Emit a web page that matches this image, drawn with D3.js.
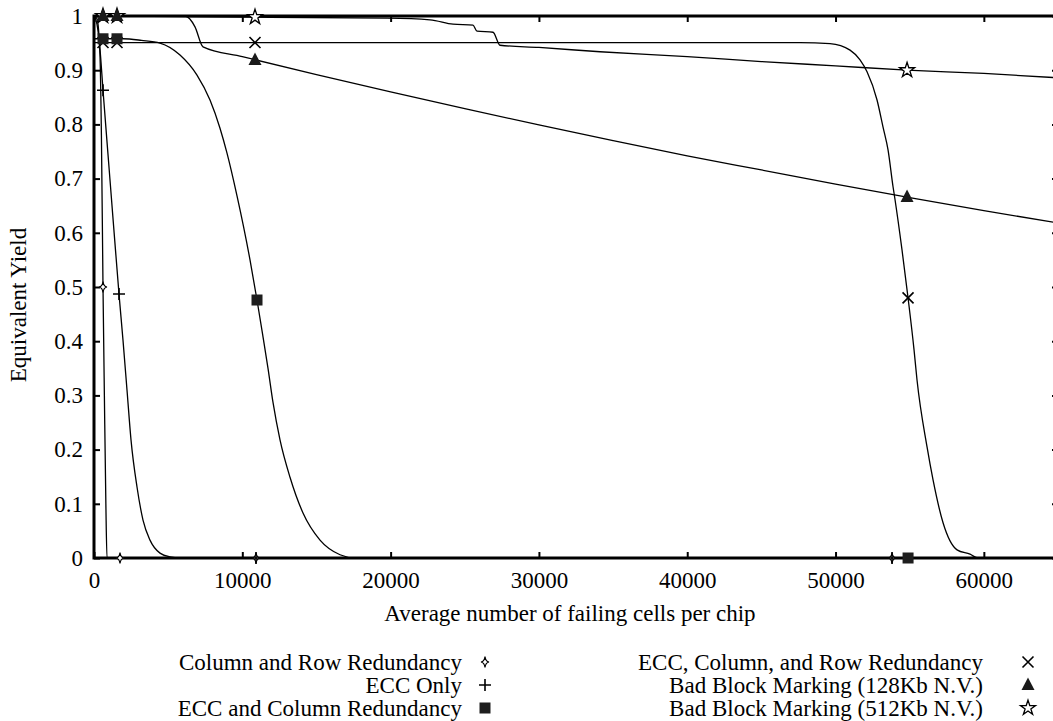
<!DOCTYPE html>
<html>
<head>
<meta charset="utf-8">
<script src="https://cdn.jsdelivr.net/npm/d3@7"></script>
<style>
  body { margin: 0; background: #fff; }
  svg text { font-family: "Liberation Serif", "Times New Roman", serif; fill: #000; }
</style>
</head>
<body>
<svg id="chart" width="1053" height="721" font-family="Liberation Serif"></svg>
<script>
// ---- axis ticks ----
const xTickValues = [0, 10000, 20000, 30000, 40000, 50000, 60000];
const yTickValues = [0, 0.1, 0.2, 0.3, 0.4, 0.5, 0.6, 0.7, 0.8, 0.9, 1];
const yTickLabels = ["0", "0.1", "0.2", "0.3", "0.4", "0.5", "0.6", "0.7", "0.8", "0.9", "1"];
const xDomain = [0, 65000];
const yDomain = [0, 1];
const xTitle = "Average number of failing cells per chip";
const yTitle = "Equivalent Yield";

// ---- series names ----
const seriesNames = [
  "Column and Row Redundancy",
  "ECC Only",
  "ECC and Column Redundancy",
  "ECC, Column, and Row Redundancy",
  "Bad Block Marking (128Kb N.V.)",
  "Bad Block Marking (512Kb N.V.)"
];

// ---- curves (failing cells, yield) ----
const colRowX = [0, 200, 400, 500, 607, 700, 800, 877, 65000];
const colRowY = [1, 0.995, 0.93, 0.78, 0.5, 0.3, 0.1, 0, 0];

const eccOnlyX = [0, 200, 400, 607, 1000, 1300, 1686, 1955, 2225, 2495, 2900, 3304, 3776, 4450, 5125, 5800, 65000];
const eccOnlyY = [1, 0.985, 0.94, 0.863, 0.725, 0.62, 0.487, 0.402, 0.310, 0.218, 0.131, 0.070, 0.033, 0.009, 0.002, 0, 0];

const eccColX = [0, 1955, 3200, 4450, 5799, 6945, 7822, 8496, 8968, 9643, 10519, 10991, 11396, 11733, 12070, 12542, 13217, 14093, 15240, 16588, 17600, 65000];
const eccColY = [0.958, 0.958, 0.955, 0.950, 0.928, 0.891, 0.845, 0.793, 0.747, 0.668, 0.550, 0.476, 0.408, 0.350, 0.287, 0.218, 0.149, 0.083, 0.033, 0.006, 0, 0];

const eccColRowX = [0, 47600, 49629, 50978, 51652, 52124, 52798, 53203, 53540, 53877, 54012, 54484, 54889, 55293, 55496, 56170, 56575, 57249, 58193, 59069, 59609, 65000];
const eccColRowY = [0.951, 0.951, 0.949, 0.937, 0.919, 0.897, 0.845, 0.795, 0.753, 0.685, 0.661, 0.568, 0.480, 0.384, 0.328, 0.205, 0.144, 0.065, 0.015, 0.007, 0, 0];

const bb128X = [0, 6136, 6810, 7350, 10000, 15000, 20000, 25000, 30000, 35000, 40000, 45000, 50000, 55000, 60000, 65000];
const bb128Y = [1, 1, 0.980, 0.943, 0.925, 0.892, 0.860, 0.829, 0.799, 0.770, 0.742, 0.716, 0.690, 0.665, 0.641, 0.618];

const bb512X = [0, 10000, 19757, 22657, 24208, 25556, 25826, 26905, 27377, 30000, 34120, 40000, 45000, 50000, 54822, 60000, 65000];
const bb512Y = [1, 0.998, 0.996, 0.993, 0.985, 0.983, 0.972, 0.970, 0.946, 0.942, 0.934, 0.925, 0.916, 0.908, 0.900, 0.894, 0.886];

// ---- plotted point markers ----
const colRowMarkX = [607, 1753, 10924, 53810];
const colRowMarkY = [0.5, 0, 0, 0];
const eccOnlyMarkX = [607, 1686, 10924, 53810];
const eccOnlyMarkY = [0.863, 0.487, 0, 0];
const eccColMarkX = [607, 1551, 10991, 54890];
const eccColMarkY = [0.958, 0.958, 0.476, 0];
const eccColRowMarkX = [607, 1551, 10856, 54889];
const eccColRowMarkY = [0.951, 0.951, 0.951, 0.480];
const bb128MarkX = [607, 1551, 10856, 54822];
const bb128MarkY = [1, 1, 0.919, 0.666];
const bb512MarkX = [607, 1551, 10856, 54822];
const bb512MarkY = [1, 1, 0.998, 0.900];

// ---- layout ----
const plot = { left: 94, top: 16, right: 1058, bottom: 558 };
const fontSize = 23;

const svg = d3.select("#chart");
const x = d3.scaleLinear().domain(xDomain).range([plot.left, plot.right]);
const y = d3.scaleLinear().domain(yDomain).range([plot.bottom, plot.top]);

// marker glyphs
const markerStyles = {
  diamond: g => g.append("path").attr("d", "M0,-5.5Q0.6,-0.6 4,0Q0.6,0.6 0,5.5Q-0.6,0.6 -4,0Q-0.6,-0.6 0,-5.5Z")
                 .attr("fill", "#fff").attr("stroke", "#000").attr("stroke-width", 1.2),
  plus: g => g.append("path").attr("d", "M-6,0H6M0,-6V6").attr("stroke", "#000").attr("stroke-width", 1.6).attr("fill", "none"),
  square: g => g.append("rect").attr("x", -5.5).attr("y", -5.5).attr("width", 11).attr("height", 11).attr("fill", "#1e1e1e"),
  times: g => g.append("path").attr("d", "M-5.5,-5.5L5.5,5.5M-5.5,5.5L5.5,-5.5").attr("stroke", "#000").attr("stroke-width", 1.6).attr("fill", "none"),
  triangle: g => g.append("path").attr("d", "M0,-7.5L6.5,5L-6.5,5Z").attr("fill", "#1a1a1a"),
  star: g => g.append("path").attr("d", d3.symbol(d3.symbolStar, 70)()).attr("fill", "#fff").attr("stroke", "#000").attr("stroke-width", 1.3)
};

const series = [
  { name: seriesNames[0], xs: colRowX, ys: colRowY, mx: colRowMarkX, my: colRowMarkY, marker: "diamond" },
  { name: seriesNames[1], xs: eccOnlyX, ys: eccOnlyY, mx: eccOnlyMarkX, my: eccOnlyMarkY, marker: "plus" },
  { name: seriesNames[2], xs: eccColX, ys: eccColY, mx: eccColMarkX, my: eccColMarkY, marker: "square" },
  { name: seriesNames[3], xs: eccColRowX, ys: eccColRowY, mx: eccColRowMarkX, my: eccColRowMarkY, marker: "times" },
  { name: seriesNames[4], xs: bb128X, ys: bb128Y, mx: bb128MarkX, my: bb128MarkY, marker: "triangle" },
  { name: seriesNames[5], xs: bb512X, ys: bb512Y, mx: bb512MarkX, my: bb512MarkY, marker: "star" }
];

// curves
const line = d3.line().x(d => x(d[0])).y(d => y(d[1])).curve(d3.curveMonotoneX);
const curves = svg.append("g").attr("class", "curves");
series.forEach(s => {
  curves.append("path")
    .datum(d3.zip(s.xs, s.ys))
    .attr("d", line)
    .attr("fill", "none")
    .attr("stroke", "#000")
    .attr("stroke-width", 1.3);
});

// frame with inward ticks on every side
const frame = svg.append("g").attr("class", "frame");
frame.append("rect")
  .attr("x", plot.left).attr("y", plot.top)
  .attr("width", plot.right - plot.left).attr("height", plot.bottom - plot.top)
  .attr("fill", "none").attr("stroke", "#000").attr("stroke-width", 3);

const tickLen = 6;
const axisBottom = d3.axisBottom(x).tickValues(xTickValues).tickSizeInner(-tickLen).tickSizeOuter(0).tickPadding(14).tickFormat(d3.format("d"));
const axisTop = d3.axisTop(x).tickValues(xTickValues).tickSizeInner(-tickLen).tickSizeOuter(0).tickFormat("");
const axisLeft = d3.axisLeft(y).tickValues(yTickValues).tickSizeInner(-tickLen).tickSizeOuter(0).tickPadding(11)
  .tickFormat((d, i) => yTickLabels[i]);
const axisRight = d3.axisRight(y).tickValues(yTickValues).tickSizeInner(-tickLen).tickSizeOuter(0).tickFormat("");

function styleAxis(g) {
  g.attr("font-family", "Liberation Serif");
  g.select(".domain").remove();
  g.selectAll(".tick line").attr("stroke", "#000").attr("stroke-width", 2);
  g.selectAll(".tick text").attr("font-size", fontSize);
}
frame.append("g").attr("transform", `translate(0,${plot.bottom})`).call(axisBottom).call(styleAxis);
frame.append("g").attr("transform", `translate(0,${plot.top})`).call(axisTop).call(styleAxis);
frame.append("g").attr("transform", `translate(${plot.left},0)`).call(axisLeft).call(styleAxis);
frame.append("g").attr("transform", `translate(${plot.right},0)`).call(axisRight).call(styleAxis);

// markers on the curves; crosses sit underneath the filled squares
const markOrder = [0, 1, 3, 2, 5, 4];
const marks = svg.append("g").attr("class", "marks");
markOrder.forEach(k => {
  const s = series[k];
  d3.zip(s.mx, s.my).forEach(p => {
    const g = marks.append("g").attr("transform", `translate(${x(p[0])},${y(p[1])})`);
    markerStyles[s.marker](g);
  });
});

// axis titles
svg.append("text")
  .attr("x", (plot.left + plot.right) / 2 - 6).attr("y", 621)
  .attr("text-anchor", "middle").attr("font-size", fontSize)
  .text(xTitle);
svg.append("text")
  .attr("transform", `translate(26,${(plot.top + plot.bottom) / 2 + 18}) rotate(-90)`)
  .attr("text-anchor", "middle").attr("font-size", fontSize)
  .text(yTitle);

// legend: two columns of three rows, text right-aligned before the glyph
const legendCols = [
  { textRight: 462, markX: 485 },
  { textRight: 983, markX: 1028 }
];
const legendRowY = [662, 685, 708];
const legend = svg.append("g").attr("class", "legend");
series.forEach((s, i) => {
  const col = legendCols[Math.floor(i / 3)];
  const ry = legendRowY[i % 3];
  legend.append("text")
    .attr("x", col.textRight).attr("y", ry)
    .attr("dy", "0.35em")
    .attr("text-anchor", "end").attr("font-size", fontSize)
    .text(s.name);
  const g = legend.append("g").attr("transform", `translate(${col.markX},${ry})`);
  markerStyles[s.marker](g);
});
</script>
</body>
</html>
